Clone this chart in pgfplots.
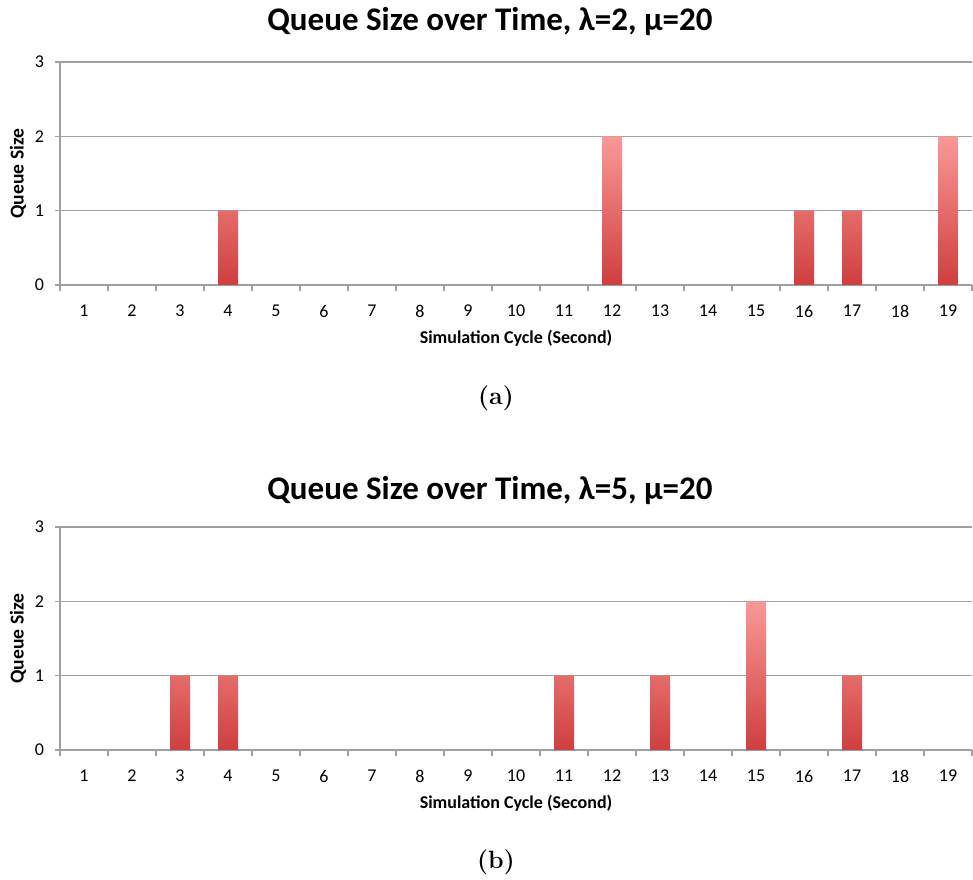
\documentclass[border=0pt]{standalone}
\usepackage{fontspec}
\usepackage{pgfplots}
\pgfplotsset{compat=1.18}
\newfontfamily\calib{Carlito}
\definecolor{gridgray}{RGB}{160,160,160}
\definecolor{bartop}{RGB}{250,152,152}
\definecolor{barbot}{RGB}{208,62,62}
\pgfplotsset{qstyle/.style={
  scale only axis, width=456pt, height=111.5pt,
  xmin=0.5, xmax=19.5, ymin=0, ymax=3,
  axis x line*=bottom, axis y line*=left,
  axis line style={gridgray, line width=0.8pt},
  xtick={1,...,19}, ytick={0,1,2,3},
  minor xtick={0.5,1.5,...,19.5},
  major x tick style={draw=none},
  minor x tick style={gridgray, line width=0.8pt},
  y tick style={gridgray, line width=0.8pt},
  tick align=outside,
  major tick length=2.5pt, minor tick length=3pt,
  ymajorgrids, major grid style={gridgray, line width=0.8pt},
  /pgf/number format/assume math mode=true,
  ticklabel style={font=\calib\fontsize{9}{10}\selectfont, text=black},
  xticklabel style={anchor=center, yshift=-10.5pt},
  yticklabel style={anchor=east, xshift=-2pt},
  xlabel={Simulation Cycle (Second)},
  ylabel={Queue Size},
  xlabel style={font=\calib\bfseries\fontsize{9}{10}\selectfont, at={(axis description cs:0.5,-0.238)}, anchor=center},
  ylabel style={font=\calib\bfseries\fontsize{9.8}{11}\selectfont, at={(axis description cs:-0.046,0.5)}, anchor=center},
  title style={font=\calib\bfseries\fontsize{16.5}{19}\selectfont, anchor=center, yshift=-7.5pt},
  clip=false,
}}
\begin{document}
\begin{tikzpicture}
\path[use as bounding box] (0,0) rectangle (486.5pt,439.5pt);
\begin{axis}[qstyle, at={(30pt,297pt)}, anchor=south west,
  title={Queue Size over Time, λ=2, μ=20},
  title style={at={(axis description cs:0.4715,1.197)}}]
\addplot[ybar, bar width=10pt, draw=none, top color=bartop, bottom color=barbot,
  restrict y to domain=0.5:10] table {
x y
1 0
2 0
3 0
4 1
5 0
6 0
7 0
8 0
9 0
10 0
11 0
12 2
13 0
14 0
15 0
16 1
17 1
18 0
19 2
};
\end{axis}
\begin{axis}[qstyle, at={(30pt,64.5pt)}, anchor=south west,
  title={Queue Size over Time, λ=5, μ=20},
  title style={at={(axis description cs:0.4715,1.175)}}]
\addplot[ybar, bar width=10pt, draw=none, top color=bartop, bottom color=barbot,
  restrict y to domain=0.5:10] table {
x y
1 0
2 0
3 1
4 1
5 0
6 0
7 0
8 0
9 0
10 0
11 1
12 0
13 1
14 0
15 2
16 0
17 1
18 0
19 0
};
\end{axis}
\node[font=\bfseries\fontsize{12.5}{15}\selectfont] at (248pt,240.5pt) {(a)};
\node[font=\bfseries\fontsize{12.5}{15}\selectfont] at (248pt,8.5pt) {(b)};
\end{tikzpicture}
\end{document}
